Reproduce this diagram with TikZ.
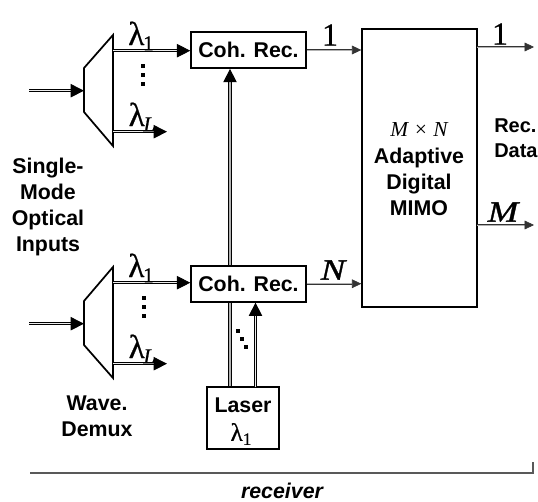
\documentclass[tikz,border=0pt]{standalone}
\usepackage{fontspec}
\setmainfont{Liberation Sans}
\newfontfamily\symfont[FakeBold=0.6]{Liberation Serif}
\newfontfamily\portfont[FakeBold=1.2, FakeStretch=1.25]{Liberation Serif}
\usepackage{xcolor}
\usetikzlibrary{arrows.meta, positioning, backgrounds}
\definecolor{ink}{HTML}{000000}
\newcommand{\lamsub}[1]{λ\kern-1pt\raisebox{-4pt}{\fontsize{16}{16}\selectfont #1}}
\newcommand{\lamsmall}{λ\raisebox{-3pt}{\fontsize{13}{13}\selectfont 1}}

\begin{document}
\begin{tikzpicture}[
  x=0.75pt, y=-0.75pt,
  blockbox/.style={rectangle, draw=ink, line width=1.3pt, fill=white, inner sep=0pt, align=center, font=\bfseries\fontsize{16}{19.5}\selectfont},
  textlabel/.style={inner sep=0pt, align=center, font=\bfseries\fontsize{16}{19.5}\selectfont},
  lamlabel/.style={inner sep=0pt, font=\symfont\fontsize{25}{25}\selectfont},
  portlabel/.style={inner sep=0pt, font=\symfont\fontsize{24}{24}\selectfont},
  demux/.style={draw=ink, line width=1.3pt, line join=miter, fill=white},
  fatarrow/.style={double=gray!15, draw=ink, line width=0.65pt, double distance=0.9pt, -{Triangle[length=10pt, width=10pt]}},
  grayarrow/.style={fatarrow, double=gray!60, double distance=1.1pt, line width=0.8pt},
  busarrow/.style={double=gray!60, draw=ink!80, line width=0.45pt, double distance=0.7pt, -{Triangle[length=7pt, width=6.5pt]}},
  dotmark/.style={fill=ink, inner sep=0pt, minimum size=3pt, rectangle}
]
  \clip (0,0) rectangle (538,502);

  % Main blocks first, the connectors hang on these
  \node[blockbox, minimum width=86pt, minimum height=27pt] (cohtop) at (248.5,50) {Coh. Rec.};
  \node[blockbox, minimum width=86pt, minimum height=27pt, below=147pt of cohtop] (cohbot) {Coh. Rec.};
  \node[blockbox, minimum width=86pt, minimum height=208pt] (mimo) at (419.5,168) {};
  \node[blockbox, minimum width=54pt, minimum height=46pt] (laser) at (243,418) {};

  % Text inside the blocks
  \node[inner sep=0pt, font=\fontspec{Liberation Serif}\itshape\fontsize{16}{16}\selectfont] (mxn) at (419,130) {M × N};
  \node[textlabel, below=8pt of mxn] (adapt) {Adaptive\\Digital\\MIMO};
  \node[textlabel] (lasertxt) at (243,405) {Laser};
  \node[lamlabel, font=\symfont\fontsize{19}{19}\selectfont] (laserlam) at (241,434) {\lamsmall};

  % Demultiplexers
  \coordinate (da) at (84,68);
  \coordinate (db) at (113,35);
  \coordinate (dc) at (113,146);
  \coordinate (dd) at (84,112);
  \coordinate (ea) at (84,301);
  \coordinate (eb) at (113,267);
  \coordinate (ec) at (113,378);
  \coordinate (ed) at (84,345);
  \draw[demux] (da) -- (db) -- (dc) -- (dd) -- cycle;
  \draw[demux] (ea) -- (eb) -- (ec) -- (ed) -- cycle;

  % Free ends of the connectors
  \coordinate (intop) at (29,90.7);
  \coordinate (intopend) at (84,90.7);
  \coordinate (inbot) at (29,323.7);
  \coordinate (inbotend) at (84,323.7);
  \coordinate (ltop) at (113,50.7);
  \coordinate (lbot) at (113,282.7);
  \coordinate (ltopL) at (113,131.7);
  \coordinate (ltopLend) at (167,131.7);
  \coordinate (lbotL) at (113,363.7);
  \coordinate (lbotLend) at (167,363.7);
  \coordinate (lofeed) at (230,387);
  \coordinate (lopump) at (255.5,387);
  \coordinate (outone) at (477,47);
  \coordinate (outoneend) at (534,47);
  \coordinate (outm) at (477,225);
  \coordinate (outmend) at (534,225);

  \draw[fatarrow] (intop) -- (intopend);
  \draw[fatarrow] (inbot) -- (inbotend);
  \draw[fatarrow] (ltop) -- (ltop -| cohtop.west);
  \draw[fatarrow] (lbot) -- (lbot -| cohbot.west);
  \draw[fatarrow] (ltopL) -- (ltopLend);
  \draw[fatarrow] (lbotL) -- (lbotLend);

  % This one runs behind the lower receiver
  \begin{scope}[on background layer]
    \draw[grayarrow] (lofeed) -- (lofeed |- cohtop.south);
  \end{scope}
  \draw[fatarrow] (lopump) -- (lopump |- cohbot.south);

  \draw[busarrow] (cohtop.east) -- (cohtop.east -| mimo.west);
  \draw[busarrow] (cohbot.east) -- (cohbot.east -| mimo.west);
  \draw[busarrow] (outone) -- (outoneend);
  \draw[busarrow] (outm) -- (outmend);

  % Wavelength labels and dots
  \node[lamlabel] (lam1top) at (141,36) {\lamsub{1}};
  \node[lamlabel] (lamLtop) at (142,117) {\lamsub{\textit{L}}};
  \node[lamlabel] (lam1bot) at (141,268) {\lamsub{1}};
  \node[lamlabel] (lamLbot) at (142,349) {\lamsub{\textit{L}}};
  \node[dotmark] (d1) at (143,66) {};
  \node[dotmark] (d2) at (143,75) {};
  \node[dotmark] (d3) at (143,84) {};
  \node[dotmark] (d4) at (144,298) {};
  \node[dotmark] (d5) at (144,307) {};
  \node[dotmark] (d6) at (144,316) {};
  \node[dotmark, minimum size=2.6pt] (d7) at (238,331) {};
  \node[dotmark, minimum size=2.6pt] (d8) at (242,339) {};
  \node[dotmark, minimum size=2.6pt] (d9) at (246,347) {};

  % Port labels
  \node[portlabel] (one1) at (330,35) {1};
  \node[portlabel, font=\portfont\itshape\fontsize{22}{22}\selectfont] (nlabel) at (333,270) {N};
  \node[portlabel] (one2) at (500,34) {1};
  \node[portlabel, font=\portfont\itshape\fontsize{22}{22}\selectfont] (mlabel) at (503,212) {M};

  % Captions
  \node[textlabel] (inputs) at (48,207) {Single-\\Mode\\Optical\\Inputs};
  \node[textlabel] (wave) at (97,416) {Wave.\\Demux};
  \node[textlabel, align=left, anchor=west, font=\bfseries\fontsize{15}{19}\selectfont] (data) at (494,138) {Rec.\\Data};
  \node[textlabel, font=\bfseries\itshape\fontsize{16}{19.5}\selectfont] (rxcap) at (282,491) {receiver};

  % Bracket under everything
  \coordinate (brl) at (30,473);
  \coordinate (brr) at (533,473);
  \coordinate (brt) at (533,462);
  \draw[gray!70!black, line width=1pt] (brl) -- (brr) -- (brt);
\end{tikzpicture}
\end{document}
